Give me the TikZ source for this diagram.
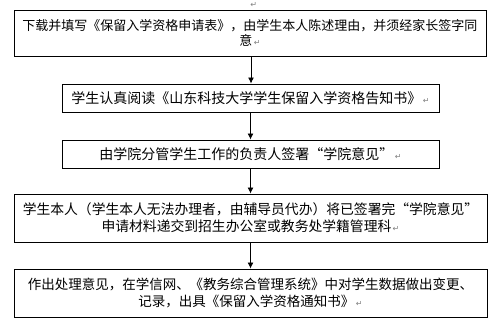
\documentclass[tikz,border=0pt]{standalone}
\usepackage{fontspec}
\setmainfont{Noto Sans CJK SC}
\newfontfamily\symfont{DejaVu Sans}
\usetikzlibrary{arrows.meta}
\newcommand{\parmark}{{\symfont\fontsize{8}{8}\selectfont\color{gray}\,↵}}
\tikzset{
  stepbox/.style={draw, line width=0.9pt, align=center, inner sep=0pt,
    font=\fontsize{13.5}{17}\selectfont},
  flowarrow/.style={line width=0.9pt, -{Latex[length=6pt,width=6pt]}}
}
\begin{document}
\begin{tikzpicture}[x=1pt, y=-1pt]
\useasboundingbox (0,0) rectangle (504,334);

\node (mark) at (253,5) {\parmark};
\node[stepbox, minimum width=472pt, minimum height=46pt,
  font=\fontsize{13}{15}\selectfont] (apply) at (250,33)
  {下载并填写《保留入学资格申请表》，由学生本人陈述理由，并须经家长签字同\\意\parmark};
\node[stepbox, minimum width=377pt, minimum height=28pt,
  font=\fontsize{14}{17}\selectfont] (read) at (250.5,98)
  {学生认真阅读《山东科技大学学生保留入学资格告知书》\parmark};
\node[stepbox, minimum width=377pt, minimum height=28pt,
  font=\fontsize{14}{17}\selectfont] (sign) at (250.5,154)
  {由学院分管学生工作的负责人签署“学院意见”\parmark};
\node[stepbox, minimum width=473pt, minimum height=48pt,
  font=\fontsize{13.8}{17}\selectfont] (submit) at (250.5,218)
  {学生本人（学生本人无法办理者，由辅导员代办）将已签署完“学院意见”\\申请材料递交到招生办公室或教务处学籍管理科\parmark};
\node[stepbox, minimum width=473pt, minimum height=48pt] (handle) at (250.5,293)
  {作出处理意见，在学信网、《教务综合管理系统》中对学生数据做出变更、\\记录，出具《保留入学资格通知书》\parmark};

\draw[flowarrow] (apply.south -| 251,0) -- (read.north -| 251,0);
\draw[flowarrow] (read) -- (sign);
\draw[flowarrow] (sign) -- (submit);
\draw[flowarrow] (submit) -- (handle);
\end{tikzpicture}
\end{document}
